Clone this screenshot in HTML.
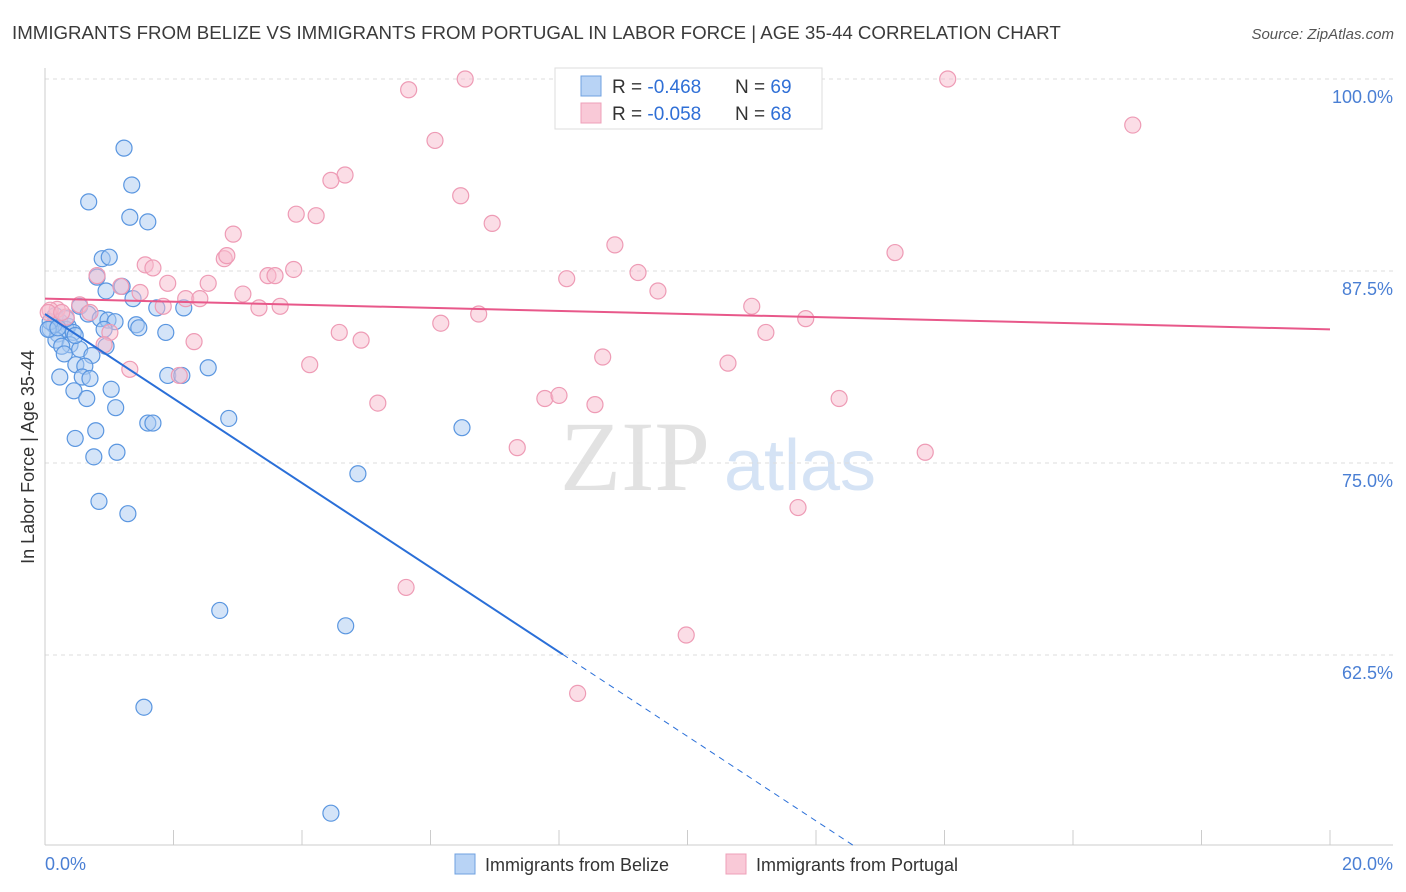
<!DOCTYPE html>
<html><head><meta charset="utf-8"><style>
body{margin:0;background:#fff;font-family:"Liberation Sans",sans-serif;}
svg{display:block}
</style></head><body>
<svg id="chart" width="1406" height="892">
<text x="12" y="39" font-size="18.7" fill="#3a3a3a">IMMIGRANTS FROM BELIZE VS IMMIGRANTS FROM PORTUGAL IN LABOR FORCE | AGE 35-44 CORRELATION CHART</text>
<text x="1394" y="39" font-size="15" fill="#555" text-anchor="end" font-style="italic">Source: ZipAtlas.com</text>
<text x="635" y="490" font-size="100" fill="#e2e2e2" font-family="Liberation Serif,serif" text-anchor="middle">ZIP</text>
<text x="800" y="490" font-size="72" fill="#d5e3f5" text-anchor="middle">atlas</text>
<g id="grid"></g><g id="ticks"></g><g id="pts"></g><g id="lines"></g>
<text transform="translate(34,457) rotate(-90)" font-size="18" fill="#333" text-anchor="middle">In Labor Force | Age 35-44</text>
<text x="45" y="870" font-size="18" fill="#4a7fd4">0.0%</text>
<text x="1393" y="870" font-size="18" fill="#4a7fd4" text-anchor="end">20.0%</text>
<g>
<rect x="555" y="68" width="267" height="61" fill="#fff" stroke="#ddd"/>
<rect x="581" y="76" width="20" height="20" fill="#b8d3f5" stroke="#6fa0e0"/>
<rect x="581" y="103" width="20" height="20" fill="#f9c9d7" stroke="#eea0b8"/>
<text x="612" y="93" font-size="19" fill="#333">R = <tspan fill="#2f6fd6">-0.468</tspan></text>
<text x="735" y="93" font-size="19" fill="#333">N = <tspan fill="#2f6fd6">69</tspan></text>
<text x="612" y="120" font-size="19" fill="#333">R = <tspan fill="#2f6fd6">-0.058</tspan></text>
<text x="735" y="120" font-size="19" fill="#333">N = <tspan fill="#2f6fd6">68</tspan></text>
</g>
<g>
<rect x="455" y="854" width="20" height="20" fill="#b8d3f5" stroke="#6fa0e0"/>
<text x="485" y="871" font-size="18" fill="#333">Immigrants from Belize</text>
<rect x="726" y="854" width="20" height="20" fill="#f9c9d7" stroke="#eea0b8"/>
<text x="756" y="871" font-size="18" fill="#333">Immigrants from Portugal</text>
</g>
</svg>
<script>
const yTicks=[100,87.5,75,62.5];
const xTickVals=[0,2,4,6,8,10,12,14,16,18,20];
const belizeX=[1.23,1.35,0.68,1.32,1.60,0.89,1.00,0.81,1.20,0.95,1.37,1.74,2.16,0.54,0.67,0.86,0.98,1.09,1.42,1.46,1.88,0.16,0.23,0.36,0.08,0.20,0.33,0.44,0.92,0.17,0.39,0.26,0.54,0.73,0.30,0.48,0.62,2.54,1.91,2.13,0.23,0.58,0.70,0.45,1.03,0.65,1.10,1.60,1.68,2.86,0.79,0.47,1.12,0.76,6.49,4.87,0.84,1.29,2.72,4.68,1.54,4.45,0.14,0.08,0.33,0.47,0.95,0.05,0.20];
const belizeY=[95.5,93.1,92.0,91.0,90.7,88.3,88.4,87.1,86.5,86.2,85.7,85.1,85.1,85.2,84.7,84.4,84.3,84.2,84.0,83.8,83.5,84.6,84.2,83.9,83.7,83.4,83.7,83.5,83.7,83.0,82.7,82.6,82.4,82.0,82.1,81.4,81.3,81.2,80.7,80.7,80.6,80.6,80.5,79.7,79.8,79.2,78.6,77.6,77.6,77.9,77.1,76.6,75.7,75.4,77.3,74.3,72.5,71.7,65.4,64.4,59.1,52.2,84.0,84.2,84.4,83.3,82.6,83.7,83.8];
const portX=[6.54,14.05,5.66,6.07,16.93,4.67,4.45,6.47,3.91,4.22,6.96,2.93,8.87,2.79,2.83,13.23,1.56,1.68,3.87,3.47,3.58,0.81,9.23,2.54,1.91,1.18,8.12,9.54,1.48,3.08,2.19,2.41,0.54,3.33,3.66,11.0,0.19,0.33,1.84,6.75,6.16,11.84,4.58,11.22,4.92,2.32,1.01,0.92,8.68,4.12,10.63,1.32,2.09,5.18,7.78,8.0,8.56,12.36,7.35,13.7,11.72,5.62,9.98,8.29,0.08,0.05,0.26,0.70];
const portY=[100,100,99.3,96.0,97.0,93.75,93.4,92.4,91.2,91.1,90.6,89.9,89.2,88.3,88.5,88.7,87.9,87.7,87.6,87.2,87.2,87.2,87.4,86.7,86.7,86.5,87.0,86.2,86.1,86.0,85.7,85.7,85.3,85.1,85.2,85.2,85.0,84.5,85.2,84.7,84.1,84.4,83.5,83.5,83.0,82.9,83.5,82.7,81.9,81.4,81.5,81.1,80.7,78.9,79.2,79.4,78.8,79.2,76.0,75.7,72.1,66.9,63.8,60.0,84.95,84.8,84.8,84.8];
const belizeTrend=[84.7,-2.75];
const portTrend=[85.7,-0.1];
const NS='http://www.w3.org/2000/svg';
const X=v=>45+v/20*1285, Y=v=>79+(100-v)/12.5*192;
function mk(t,a,p){const e=document.createElementNS(NS,t);for(const k in a)e.setAttribute(k,a[k]);document.getElementById(p).appendChild(e);return e;}
yTicks.forEach(t=>{
 const g=mk('line',{x1:45,x2:1393,y1:Y(t),y2:Y(t),stroke:'#ddd','stroke-dasharray':'4,4'},'grid');
 
 
 const l=mk('text',{x:1393,y:Y(t)+24,'font-size':18,fill:'#4a7fd4','text-anchor':'end'},'grid');
 l.textContent=t.toFixed(1)+'%';
 
 
});
mk('line',{x1:45,x2:45,y1:68,y2:845,stroke:'#ccc'},'ticks');
mk('line',{x1:45,x2:1393,y1:845,y2:845,stroke:'#ccc'},'ticks');
xTickVals.forEach(v=>{
 const t=mk('line',{x1:X(v),x2:X(v),y1:830,y2:845,stroke:'#ccc'},'ticks');
 
 
});
function pts(xs,ys,fill,stroke,name){xs.forEach((x,i)=>{
 const c=mk('circle',{cx:X(x),cy:Y(ys[i]),r:8,fill:fill,'fill-opacity':0.5,stroke:stroke,'stroke-width':1.2},'pts');
 
 
});}
pts(belizeX,belizeY,'#a9c9f2','#5a96e0','belize-point');
pts(portX,portY,'#f7bccd','#ee9bb5','portugal-point');
const bEnd=8.06, bDash=(belizeTrend[0]-50)/-belizeTrend[1];
const b1=mk('line',{x1:X(0),y1:Y(belizeTrend[0]),x2:X(bEnd),y2:Y(belizeTrend[0]+belizeTrend[1]*bEnd),stroke:'#2a6fd8','stroke-width':2},'lines');


const b2=mk('line',{x1:X(bEnd),y1:Y(belizeTrend[0]+belizeTrend[1]*bEnd),x2:X(bDash),y2:Y(50),stroke:'#2a6fd8','stroke-width':1,'stroke-dasharray':'6,5'},'lines');


const p1=mk('line',{x1:X(0),y1:Y(portTrend[0]),x2:X(20),y2:Y(portTrend[0]+portTrend[1]*20),stroke:'#e8588a','stroke-width':2},'lines');


</script>
</body></html>
